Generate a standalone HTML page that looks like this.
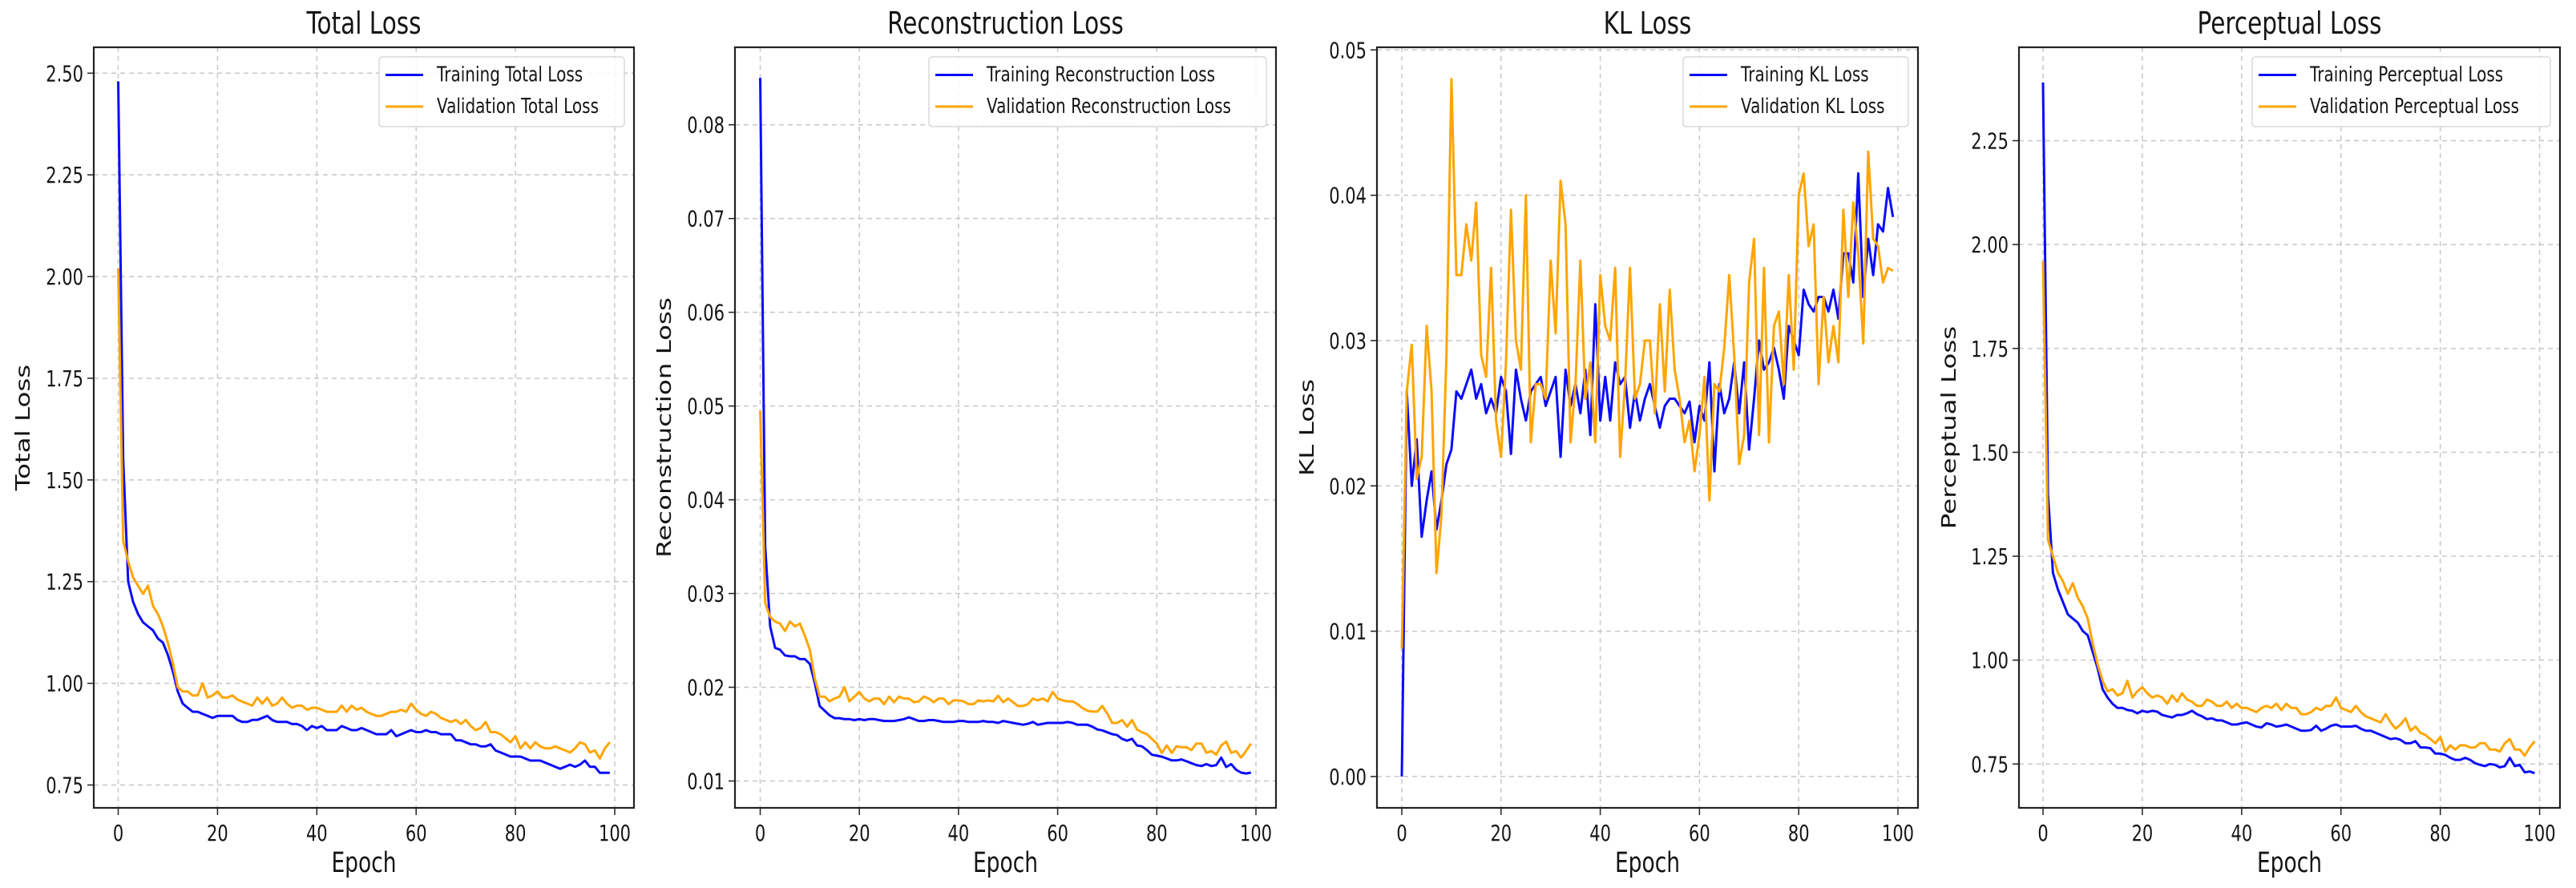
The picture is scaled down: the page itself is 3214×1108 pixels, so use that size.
<!DOCTYPE html>
<html><head><meta charset="utf-8"><style>
html,body{margin:0;padding:0;background:#fff;}
svg{display:block;font-family:"DejaVu Sans","Liberation Sans",sans-serif;}
</style></head><body>
<svg id="fig" width="3214" height="1108" viewBox="0 0 3214 1108" xmlns="http://www.w3.org/2000/svg"></svg>
<script>
const epochs = Array.from({length:100},(_,i)=>i);
const xTicks = [0,20,40,60,80,100];

const totalTrain = [2.48,1.55,1.25,1.20,1.17,1.15,1.14,1.13,1.11,1.10,1.07,1.03,0.98,0.95,0.94,0.93,0.93,0.925,0.92,0.915,0.92,0.92,0.92,0.92,0.91,0.905,0.905,0.91,0.91,0.915,0.92,0.91,0.905,0.905,0.905,0.9,0.9,0.895,0.885,0.895,0.89,0.895,0.885,0.885,0.885,0.895,0.89,0.885,0.885,0.89,0.885,0.88,0.875,0.875,0.875,0.885,0.87,0.875,0.88,0.885,0.88,0.88,0.885,0.88,0.88,0.875,0.875,0.875,0.86,0.86,0.855,0.85,0.85,0.845,0.845,0.85,0.835,0.83,0.825,0.82,0.82,0.82,0.815,0.81,0.81,0.81,0.805,0.8,0.795,0.79,0.795,0.8,0.795,0.8,0.81,0.795,0.795,0.78,0.78,0.78];
const totalVal = [2.02,1.35,1.30,1.26,1.24,1.22,1.24,1.19,1.17,1.14,1.10,1.05,0.99,0.98,0.98,0.97,0.97,1.0,0.965,0.97,0.98,0.965,0.965,0.97,0.96,0.955,0.95,0.945,0.965,0.95,0.965,0.945,0.95,0.965,0.95,0.94,0.945,0.945,0.935,0.94,0.94,0.935,0.93,0.93,0.93,0.945,0.93,0.945,0.935,0.94,0.93,0.925,0.92,0.92,0.925,0.93,0.93,0.935,0.93,0.95,0.935,0.925,0.92,0.93,0.925,0.915,0.91,0.905,0.91,0.90,0.91,0.895,0.885,0.89,0.905,0.88,0.88,0.875,0.865,0.855,0.87,0.84,0.855,0.84,0.855,0.845,0.84,0.84,0.845,0.84,0.835,0.83,0.84,0.855,0.85,0.83,0.835,0.815,0.84,0.855];
const totalTicks = [0.75,1.00,1.25,1.50,1.75,2.00,2.25,2.50];

const reconTrain = [0.085,0.035,0.0265,0.0242,0.024,0.0234,0.0233,0.0233,0.023,0.023,0.0225,0.0205,0.018,0.0175,0.017,0.0167,0.0167,0.0166,0.0166,0.0165,0.0166,0.0165,0.0166,0.0166,0.0165,0.0164,0.0164,0.0164,0.0165,0.0166,0.0168,0.0166,0.0164,0.0164,0.0165,0.0165,0.0164,0.0163,0.0163,0.0163,0.0164,0.0164,0.0163,0.0163,0.0163,0.0164,0.0163,0.0163,0.0162,0.0164,0.0163,0.0162,0.0161,0.016,0.0161,0.0163,0.016,0.0161,0.0162,0.0162,0.0162,0.0162,0.0163,0.0162,0.016,0.016,0.016,0.0158,0.0155,0.0154,0.0152,0.015,0.0149,0.0145,0.0143,0.0145,0.0138,0.0137,0.0133,0.0128,0.0127,0.0126,0.0124,0.0122,0.0122,0.0123,0.0121,0.0119,0.0117,0.0116,0.0118,0.0116,0.0117,0.0125,0.0115,0.0118,0.0112,0.0109,0.0108,0.0109];
const reconVal = [0.0495,0.029,0.0275,0.027,0.0268,0.026,0.027,0.0265,0.0268,0.0255,0.024,0.021,0.019,0.019,0.0185,0.0188,0.019,0.020,0.0185,0.019,0.0195,0.0188,0.0185,0.0188,0.0188,0.0182,0.019,0.0184,0.019,0.0188,0.0188,0.0184,0.0185,0.019,0.0188,0.0184,0.0188,0.0188,0.0182,0.0186,0.0186,0.0185,0.0182,0.0182,0.0186,0.0185,0.0186,0.0185,0.0191,0.0184,0.0188,0.0184,0.018,0.018,0.0182,0.0188,0.0186,0.0188,0.0185,0.0195,0.0188,0.0186,0.0185,0.0185,0.0182,0.0178,0.0175,0.0174,0.0174,0.018,0.0172,0.0162,0.0162,0.0165,0.0158,0.0165,0.0155,0.0152,0.015,0.0145,0.014,0.013,0.0138,0.013,0.0137,0.0136,0.0136,0.0133,0.014,0.014,0.013,0.0132,0.0128,0.0138,0.0142,0.013,0.0132,0.0125,0.0132,0.014];
const reconTicks = [0.01,0.02,0.03,0.04,0.05,0.06,0.07,0.08];

const klTrain = [0.0,0.0265,0.020,0.0232,0.0165,0.019,0.021,0.017,0.019,0.0215,0.0225,0.0265,0.026,0.027,0.028,0.026,0.027,0.025,0.026,0.025,0.0275,0.0265,0.0222,0.028,0.026,0.0245,0.0265,0.027,0.0275,0.0255,0.0265,0.0275,0.022,0.028,0.0255,0.027,0.025,0.028,0.0235,0.0325,0.0245,0.0275,0.0245,0.0285,0.027,0.0275,0.024,0.0265,0.0245,0.026,0.027,0.0255,0.024,0.0255,0.026,0.026,0.0255,0.025,0.0258,0.023,0.0255,0.0245,0.0285,0.021,0.027,0.025,0.026,0.0285,0.025,0.0285,0.0225,0.026,0.030,0.028,0.0285,0.0295,0.028,0.026,0.031,0.030,0.029,0.0335,0.0325,0.032,0.033,0.033,0.032,0.0335,0.0315,0.036,0.036,0.034,0.0415,0.033,0.037,0.0345,0.038,0.0375,0.0405,0.0385];
const klVal = [0.0088,0.0265,0.0297,0.0205,0.022,0.031,0.0265,0.014,0.018,0.029,0.048,0.0345,0.0345,0.038,0.0355,0.0395,0.029,0.0275,0.035,0.0245,0.022,0.0285,0.039,0.030,0.028,0.040,0.023,0.027,0.027,0.026,0.0355,0.0305,0.041,0.038,0.023,0.027,0.0355,0.026,0.0285,0.023,0.0345,0.031,0.030,0.035,0.022,0.027,0.035,0.026,0.027,0.030,0.030,0.025,0.0325,0.0265,0.0335,0.028,0.026,0.023,0.0245,0.021,0.0235,0.0275,0.019,0.027,0.0265,0.0295,0.0345,0.029,0.0215,0.0235,0.034,0.037,0.0235,0.035,0.023,0.031,0.032,0.027,0.0345,0.028,0.040,0.0415,0.0365,0.038,0.027,0.033,0.0285,0.031,0.0285,0.039,0.033,0.0395,0.036,0.0298,0.043,0.037,0.0365,0.034,0.035,0.0348];
const klTicks = [0.00,0.01,0.02,0.03,0.04,0.05];

const percTrain = [2.39,1.40,1.21,1.17,1.14,1.11,1.10,1.09,1.07,1.06,1.02,0.98,0.93,0.91,0.895,0.885,0.885,0.88,0.878,0.872,0.878,0.875,0.878,0.876,0.868,0.865,0.862,0.868,0.868,0.872,0.878,0.87,0.865,0.858,0.86,0.855,0.855,0.85,0.845,0.845,0.848,0.85,0.845,0.84,0.838,0.848,0.845,0.84,0.842,0.845,0.84,0.835,0.83,0.83,0.832,0.842,0.83,0.835,0.842,0.845,0.84,0.84,0.84,0.842,0.835,0.83,0.83,0.825,0.82,0.815,0.81,0.812,0.808,0.8,0.8,0.805,0.79,0.79,0.788,0.775,0.775,0.772,0.765,0.76,0.76,0.765,0.76,0.752,0.748,0.745,0.75,0.748,0.742,0.745,0.765,0.745,0.748,0.73,0.732,0.728,0.73];
const percVal = [1.96,1.29,1.25,1.21,1.19,1.16,1.185,1.15,1.13,1.10,1.04,0.99,0.95,0.925,0.93,0.915,0.92,0.95,0.91,0.925,0.935,0.92,0.91,0.915,0.91,0.895,0.915,0.9,0.92,0.905,0.9,0.89,0.89,0.905,0.9,0.89,0.89,0.9,0.885,0.895,0.885,0.885,0.88,0.875,0.885,0.89,0.885,0.895,0.88,0.895,0.885,0.885,0.87,0.87,0.875,0.885,0.88,0.89,0.89,0.91,0.885,0.88,0.875,0.89,0.875,0.865,0.86,0.855,0.85,0.87,0.85,0.835,0.845,0.86,0.83,0.84,0.825,0.82,0.81,0.8,0.815,0.78,0.795,0.785,0.795,0.795,0.79,0.79,0.8,0.8,0.785,0.785,0.78,0.8,0.81,0.785,0.785,0.77,0.79,0.805];
const percTicks = [0.75,1.00,1.25,1.50,1.75,2.00,2.25];

const panels = [
 {key:'total',title:'Total Loss',ylabel:'Total Loss',train:totalTrain,val:totalVal,ticks:totalTicks,dec:2,
  box:[117,59,791,1008],x0:147.5,x100:767,yA:[2.50,91.3],yB:[0.75,979.5],ylx:27,leg:[473,71,779,158],tr:'Training Total Loss',va:'Validation Total Loss'},
 {key:'recon',title:'Reconstruction Loss',ylabel:'Reconstruction Loss',train:reconTrain,val:reconVal,ticks:reconTicks,dec:2,
  box:[917,59,1592,1008],x0:948.5,x100:1567,yA:[0.08,155.7],yB:[0.01,974.5],ylx:827,leg:[1159,71,1580,158],tr:'Training Reconstruction Loss',va:'Validation Reconstruction Loss'},
 {key:'kl',title:'KL Loss',ylabel:'KL Loss',train:klTrain,val:klVal,ticks:klTicks,dec:2,
  box:[1718,59,2393,1008],x0:1749,x100:2368,yA:[0.05,62.3],yB:[0.00,968.9],ylx:1629,leg:[2100,71,2381,158],tr:'Training KL Loss',va:'Validation KL Loss'},
 {key:'perceptual',title:'Perceptual Loss',ylabel:'Perceptual Loss',train:percTrain,val:percVal,ticks:percTicks,dec:2,
  box:[2519,59,3194,1008],x0:2549,x100:3168.6,yA:[2.25,175.5],yB:[0.75,953.3],ylx:2430,leg:[2810,71,3182,158],tr:'Training Perceptual Loss',va:'Validation Perceptual Loss'}
];

const SY=1.3;
const NS='http://www.w3.org/2000/svg';
const fig=document.getElementById('fig');
function mk(tag,attrs,parent){const e=document.createElementNS(NS,tag);for(const k in attrs)e.setAttribute(k,attrs[k]);(parent||fig).appendChild(e);return e;}
function txt(parent,x,y,str,size,anchor,rot){
  const tr='translate('+x+' '+y+')'+(rot?' rotate(-90)':'')+(rot?' scale('+SY+' 1)':' scale(1 '+SY+')');
  const t=mk('text',{x:0,y:0,'font-size':size,'text-anchor':anchor,fill:'#151515',transform:tr},parent);
  t.textContent=str;return t;
}

panels.forEach(p=>{
  const g=mk('g',{});
  
  
  const [L,T,R,B]=p.box;
  const xs=v=>p.x0+(v/100)*(p.x100-p.x0);
  const ys=v=>p.yB[1]+(v-p.yB[0])*(p.yA[1]-p.yB[1])/(p.yA[0]-p.yB[0]);
  xTicks.forEach(t=>{
    const l=mk('line',{x1:xs(t),x2:xs(t),y1:T,y2:B,stroke:'#c8c8c8','stroke-width':1.5,'stroke-dasharray':'6,5'},g);
    
    
    mk('line',{x1:xs(t),x2:xs(t),y1:B,y2:B+9,stroke:'#222','stroke-width':1.5},g);
    const tx=txt(g,xs(t),B+41,String(t),21,'middle');
    
    
  });
  p.ticks.forEach(t=>{
    const l=mk('line',{x1:L,x2:R,y1:ys(t),y2:ys(t),stroke:'#c8c8c8','stroke-width':1.5,'stroke-dasharray':'6,5'},g);
    
    
    mk('line',{x1:L-8,x2:L,y1:ys(t),y2:ys(t),stroke:'#222','stroke-width':1.5},g);
    const tx=txt(g,L-13,ys(t)+10,t.toFixed(p.dec),21,'end');
    
    
  });
  const mkLine=(arr,color,name)=>{
    const d=arr.map((v,i)=>(i?'L':'M')+xs(epochs[i]).toFixed(1)+','+ys(v).toFixed(1)).join(' ');
    const path=mk('path',{d:d,fill:'none',stroke:color,'stroke-width':3,'stroke-linejoin':'round'},g);
    
    
  };
  mkLine(p.train,'#0a0aff',p.key+'-training-line');
  mkLine(p.val,'#ffa500',p.key+'-validation-line');
  const frame=mk('rect',{x:L,y:T,width:R-L,height:B-T,fill:'none',stroke:'#222','stroke-width':2.2},g);
  
  
  const title=txt(g,(L+R)/2,42,p.title,29.5,'middle');
  
  
  const xl=txt(g,(L+R)/2,1088,'Epoch',26.5,'middle');
  
  
  const cy=(T+B)/2;
  const yl=txt(g,p.ylx+10,cy,p.ylabel,25,'middle',true);
  
  
  const [lx,ly,rx,by]=p.leg;
  const lg=mk('g',{},g);
  
  
  mk('rect',{x:lx,y:ly,width:rx-lx,height:by-ly,rx:4,fill:'#fff','fill-opacity':0.85,stroke:'#d8d8d8','stroke-width':1.5},lg);
  [[p.tr,'#0a0aff',93.5],[p.va,'#ffa500',133]].forEach(([s,c,yy],i)=>{
    const e=mk('g',{},lg);
    
    
    mk('line',{x1:lx+8,x2:lx+55,y1:yy,y2:yy,stroke:c,'stroke-width':3},e);
    txt(e,lx+72,yy+8,s,20,'start');
  });
});
</script>
</body></html>
